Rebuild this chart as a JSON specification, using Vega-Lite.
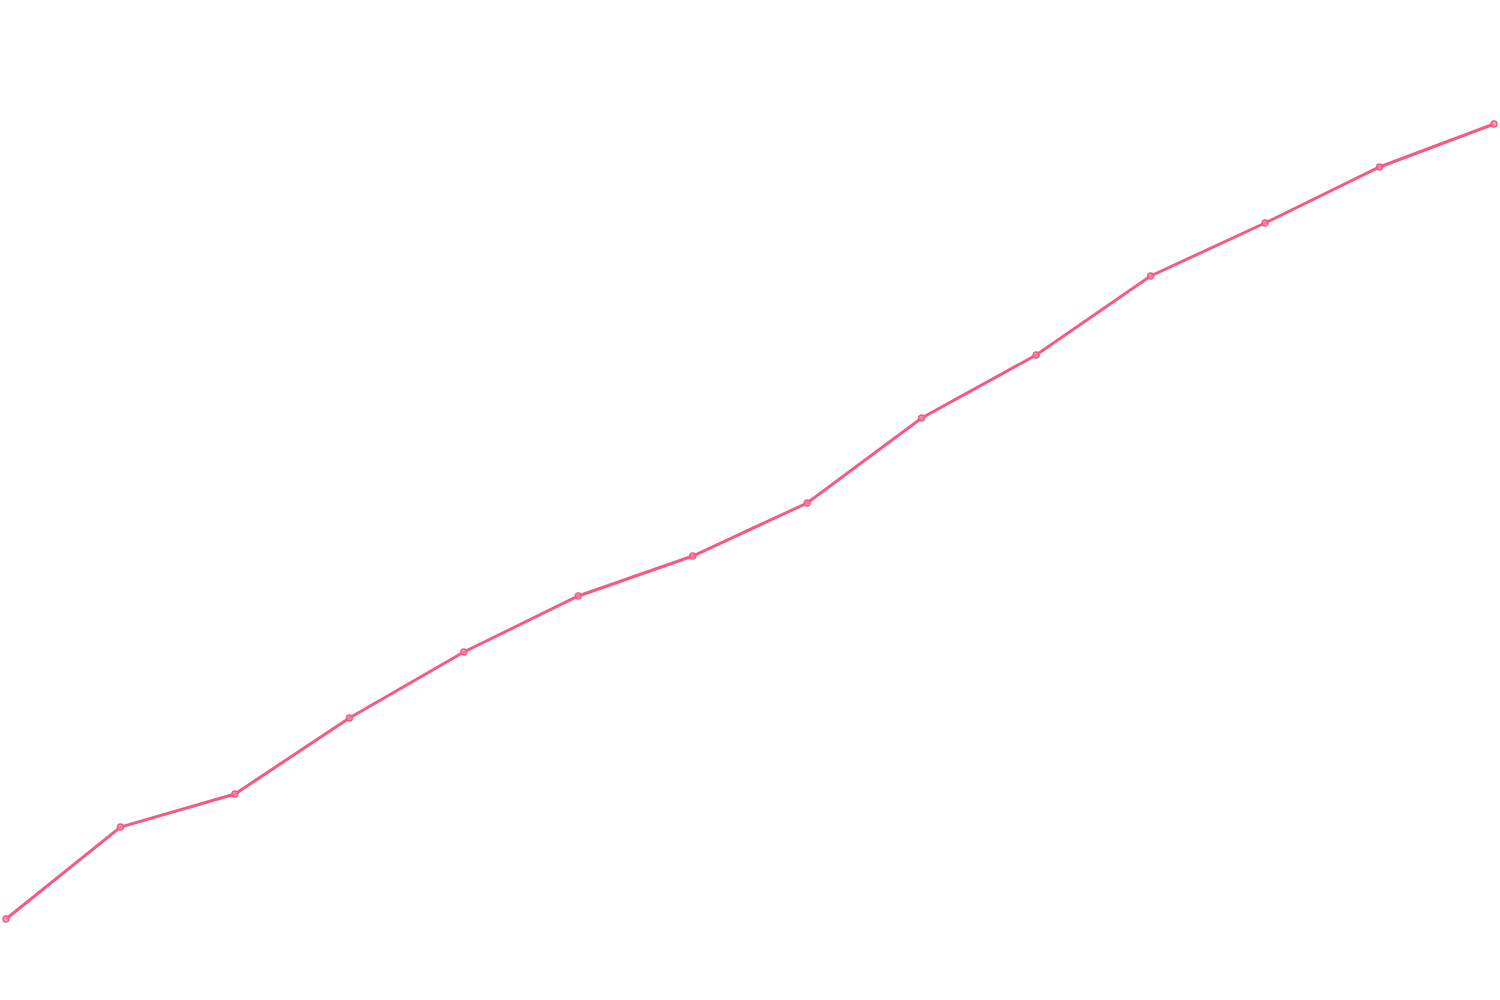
{
  "$schema": "https://vega.github.io/schema/vega-lite/v6.json",
  "autosize": {"type": "fit", "contains": "padding"},
  "width": 1500,
  "height": 1000,
  "padding": 0,
  "config": {"view": {"stroke": null}},
  "data": {"values": [
    {"i": 0, "v": 81},
    {"i": 1, "v": 173},
    {"i": 2, "v": 206},
    {"i": 3, "v": 282},
    {"i": 4, "v": 348},
    {"i": 5, "v": 404},
    {"i": 6, "v": 444},
    {"i": 7, "v": 497},
    {"i": 8, "v": 582},
    {"i": 9, "v": 645},
    {"i": 10, "v": 724},
    {"i": 11, "v": 777},
    {"i": 12, "v": 833},
    {"i": 13, "v": 876}
  ]},
  "encoding": {
    "x": {"field": "i", "type": "quantitative", "scale": {"domain": [0, 13], "nice": false, "zero": false}, "axis": null},
    "y": {"field": "v", "type": "quantitative", "scale": {"domain": [0, 1000], "nice": false}, "axis": null}
  },
  "layer": [
    {"mark": {"type": "line", "color": "#f65a83", "strokeWidth": 3}},
    {"mark": {"type": "point", "filled": false, "fill": "#f48aa6", "fillOpacity": 0.7, "size": 35, "stroke": "#f65a83", "strokeWidth": 1.5}}
  ]
}
